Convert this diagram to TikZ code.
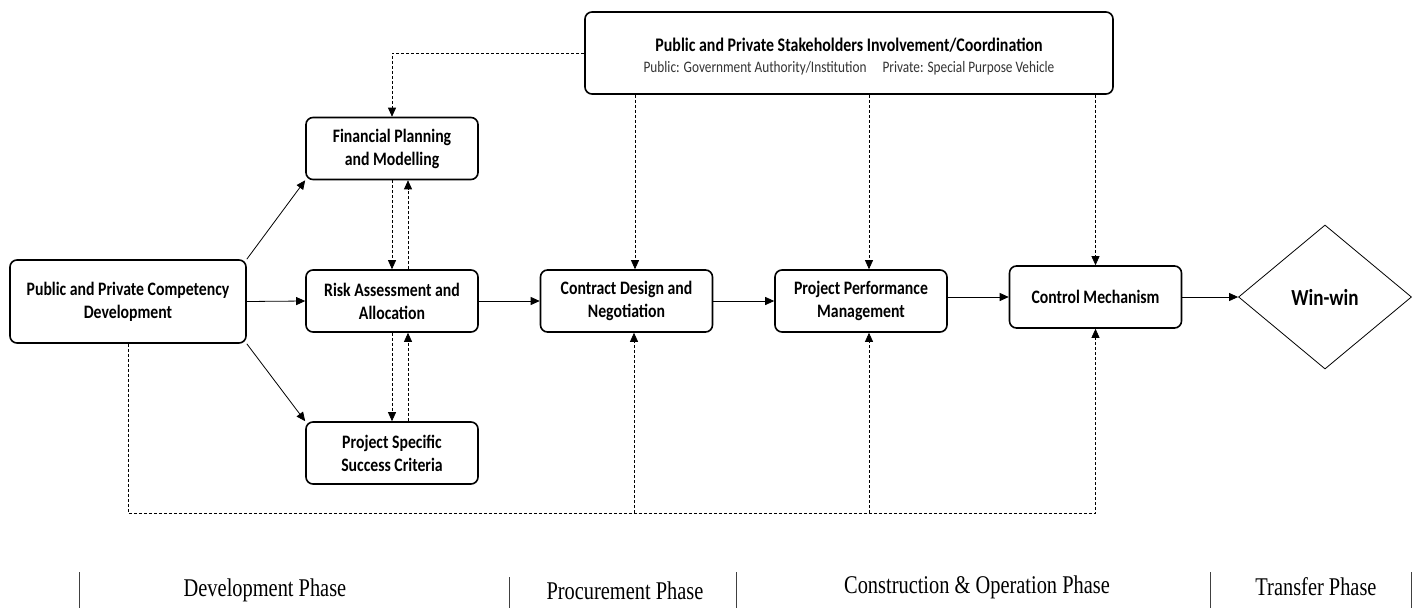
\documentclass[tikz,border=0pt]{standalone}
\usepackage{fontspec}
\usepackage{tikz}
\usetikzlibrary{arrows.meta}
\usetikzlibrary{shapes.geometric}
\newfontfamily\boxfont[FakeStretch=0.83]{Carlito}
\newfontfamily\phasefont[FakeStretch=0.8]{Liberation Serif}

\tikzset{
  box/.style={draw, line width=1.6pt, rounded corners=7pt, align=center,
    minimum width=172pt, minimum height=62pt,
    font=\boxfont\bfseries\fontsize{19}{23}\selectfont},
  flow/.style={-{Triangle[length=9pt,width=8pt]}, line width=0.8pt},
  link/.style={-{Triangle[length=9pt,width=8pt]}, line width=0.7pt,
    dash pattern=on 3pt off 2pt},
  sep/.style={line width=0.8pt, black!75},
  phase/.style={font=\phasefont\fontsize{25.5}{28}\selectfont}
}

\begin{document}
\begin{tikzpicture}[x=1pt,y=-1pt]
      \useasboundingbox (0,0) rectangle (1418,608);

      % boxes
      \node[box, minimum width=236pt, minimum height=83pt] (comp) at (128,301.5)
        {Public and Private Competency\\Development};
      \node[box] (fin) at (392,148.5) {Financial Planning\\and Modelling};
      \node[box] (risk) at (392,301) {Risk Assessment and\\Allocation};
      \node[box] (crit) at (392,453) {Project Specific\\Success Criteria};
      \node[box] (contract) at (626.5,301) {Contract Design and\\Negotiation};
      \node[box] (perf) at (861,301) {Project Performance\\Management};
      \node[box] (control) at (1095.5,297) {Control Mechanism};
      \node[draw, diamond, line width=0.8pt, minimum width=173pt, minimum height=144pt,
        inner sep=0pt, font=\boxfont\bfseries\fontsize{23}{26}\selectfont]
        (winwin) at (1325,297) {Win-win};
      \node[box, minimum width=528pt, minimum height=82pt] (stake) at (849,53) {};
      \node[font=\boxfont\bfseries\fontsize{19.2}{21}\selectfont] (staketitle)
        at (849,45) {Public and Private Stakeholders Involvement/Coordination};
      \node[font=\boxfont\fontsize{16}{18}\selectfont, text=black!80] (stakesub)
        at (849,68) {Public: Government Authority/Institution\quad Private: Special Purpose Vehicle};

      % main flow
      \draw[flow] (comp.north east) -- (fin.south west);
      \draw[flow] (comp.east) -- (risk.west);
      \draw[flow] (comp.south east) -- (crit.north west);
      \draw[flow] (risk.east) -- (contract.west);
      \draw[flow] (contract.east) -- (perf.west);
      \draw[flow] (perf.east |- control.west) -- (control.west);
      \draw[flow] (control.east) -- (winwin.west);

      % stakeholder links
      \draw[link] (stake.west) -| (fin.north);
      \draw[link] ([xshift=8.5]contract.north |- stake.south) -- ([xshift=8.5]contract.north);
      \draw[link] ([xshift=8]perf.north |- stake.south) -- ([xshift=8]perf.north);
      \draw[link] (control.north |- stake.south) -- (control.north);

      % feedback between the development boxes
      \draw[link] (fin.south) -- (risk.north);
      \draw[link] ([xshift=16]risk.north) -- ([xshift=16]fin.south);
      \draw[link] (risk.south) -- (crit.north);
      \draw[link] ([xshift=16]crit.north) -- ([xshift=16]risk.south);

      % competency feedback along the bottom
      \coordinate (bus) at (0,513);
      \draw[link] (comp.south) |- (control.south |- bus) -- (control.south);
      \draw[link] ([xshift=7.5]contract.south |- bus) -- ([xshift=7.5]contract.south);
      \draw[link] ([xshift=8]perf.south |- bus) -- ([xshift=8]perf.south);

      % phases
      \foreach \x/\y in {79/572,509/577,736/572,1210/572,1411/572}
      \draw[sep] (\x,\y) -- (\x,608);
      \node[phase] (dev) at (265,590) {Development Phase};
      \node[phase] (proc) at (625,591) {Procurement Phase};
      \node[phase] (cons) at (977,587) {Construction \& Operation Phase};
      \node[phase] (trans) at (1316,587) {Transfer Phase};
    \end{tikzpicture}
\end{document}
